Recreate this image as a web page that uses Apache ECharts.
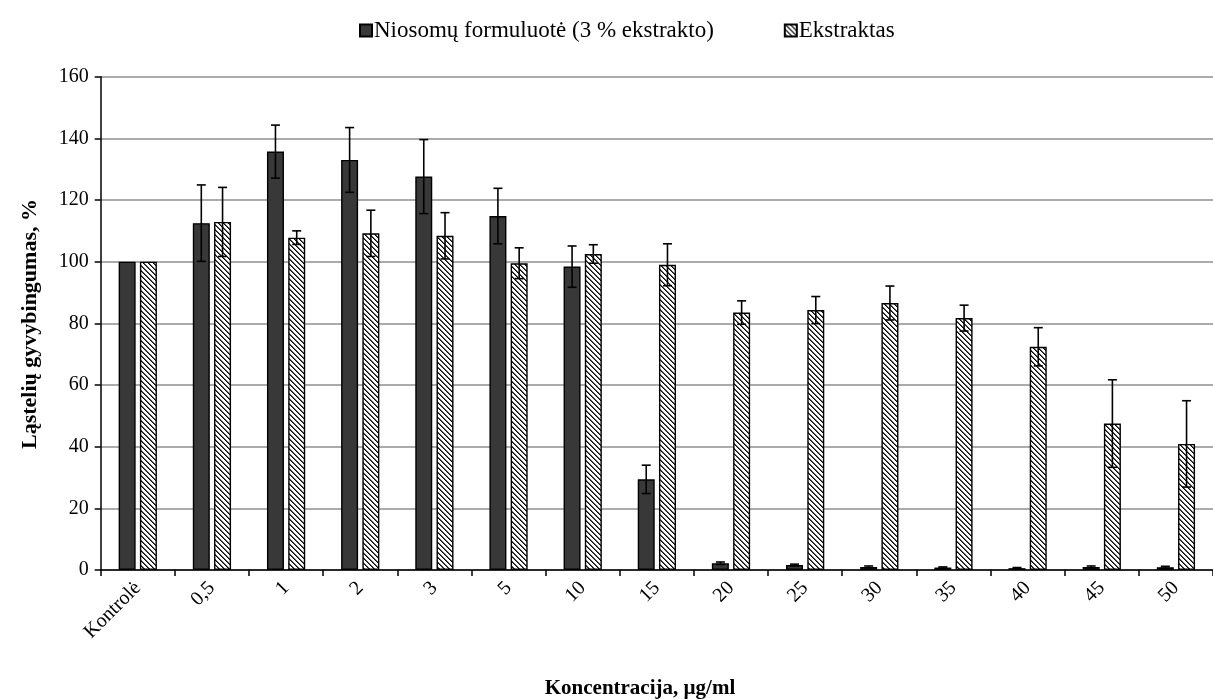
<!DOCTYPE html>
<html>
<head>
<meta charset="utf-8">
<script src="https://cdn.jsdelivr.net/npm/echarts@6/dist/echarts.min.js"></script>
<style>
  html, body { margin: 0; padding: 0; background: #fff; }
  #chart { width: 1213px; height: 700px; }
</style>
</head>
<body>
<div id="chart"></div>
<script>
// Concentrations (µg/ml) along the category axis
const categories = ['Kontrolė', '0,5', '1', '2', '3', '5', '10', '15', '20', '25', '30', '35', '40', '45', '50'];

// Cell viability, % – niosome formulation (3 % extract)
const niosomeMean = [100, 112.5, 135.7, 133.0, 127.6, 114.8, 98.4, 29.4, 2.2, 1.6, 1.0, 0.8, 0.6, 1.0, 0.9];
const niosomeErr  = [0, 12.4, 8.6, 10.5, 12.0, 9.0, 6.7, 4.6, 0.4, 0.3, 0.3, 0.2, 0.2, 0.3, 0.3];

// Cell viability, % – plain extract
const extractMean = [100, 112.9, 107.8, 109.2, 108.4, 99.5, 102.5, 99.0, 83.5, 84.3, 86.6, 81.7, 72.4, 47.5, 40.9];
const extractErr  = [0, 11.2, 2.2, 7.5, 7.5, 5.0, 3.0, 6.8, 3.8, 4.4, 5.5, 4.2, 6.2, 14.2, 14.0];

const yTicks = { min: 0, max: 160, step: 20 };

const seriesNames = ['Niosomų formuluotė (3 % ekstrakto)', 'Ekstraktas'];

const FONT = 'Liberation Serif';
const BAR_W = 17;
const BAR_GAP = 0.25;
const BAR_OFFSET = (BAR_W + BAR_W * BAR_GAP) / 2;

// Downward diagonal hatch tile used to fill the extract bars
function makeHatch() {
  const n = 5;
  const c = document.createElement('canvas');
  c.width = n; c.height = n;
  const ctx = c.getContext('2d');
  const img = ctx.createImageData(n, n);
  for (let y = 0; y < n; y++) {
    for (let x = 0; x < n; x++) {
      const d = (x - y + n) % n;
      const v = d === 0 ? 10 : (d === 1 ? 90 : 255);
      const i = (y * n + x) * 4;
      img.data[i] = v; img.data[i + 1] = v; img.data[i + 2] = v; img.data[i + 3] = 255;
    }
  }
  ctx.putImageData(img, 0, 0);
  return c;
}
const hatchFill = { image: makeHatch(), repeat: 'repeat' };

function errorBars(means, errs, offset) {
  const data = means.map((m, i) => [i, m, errs[i]]);
  return {
    type: 'custom',
    silent: true,
    z: 10,
    data: data,
    encode: { x: 0, y: 1 },
    renderItem: function (params, api) {
      const i = api.value(0), m = api.value(1), e = api.value(2);
      if (!e) return null;
      const hi = api.coord([i, m + e]);
      const lo = api.coord([i, m - e]);
      const x = hi[0] + offset;
      const cap = 4.5;
      const style = { stroke: '#000', lineWidth: 1.6 };
      return {
        type: 'group',
        children: [
          { type: 'line', shape: { x1: x, y1: hi[1], x2: x, y2: lo[1] }, style: style },
          { type: 'line', shape: { x1: x - cap, y1: hi[1], x2: x + cap, y2: hi[1] }, style: style },
          { type: 'line', shape: { x1: x - cap, y1: lo[1], x2: x + cap, y2: lo[1] }, style: style }
        ]
      };
    }
  };
}

const chart = echarts.init(document.getElementById('chart'), null, { renderer: 'canvas' });

chart.setOption({
  animation: false,
  backgroundColor: '#fff',
  textStyle: { fontFamily: FONT, color: '#000' },
  legend: {
    data: seriesNames,
    top: 14,
    left: 354,
    itemWidth: 12,
    itemHeight: 12,
    itemGap: 70,
    icon: 'rect',
    textStyle: { fontFamily: FONT, fontSize: 23, color: '#000', padding: [0, 0, 0, -3] }
  },
  grid: { left: 100.7, right: -7.7, top: 76.7, bottom: 130, containLabel: false },
  xAxis: {
    type: 'category',
    data: categories,
    axisLine: { lineStyle: { color: '#000', width: 1.5 } },
    axisTick: { show: true, length: 6, lineStyle: { color: '#000', width: 1.5 } },
    axisLabel: { rotate: 45, margin: 15, fontFamily: FONT, fontSize: 20, color: '#000', interval: 0 },
    splitLine: { show: false }
  },
  yAxis: {
    type: 'value',
    min: yTicks.min,
    max: yTicks.max,
    interval: yTicks.step,
    axisLine: { show: true, lineStyle: { color: '#000', width: 1.5 } },
    axisTick: { show: true, length: 6, lineStyle: { color: '#000', width: 1.5 } },
    axisLabel: { margin: 12, fontFamily: FONT, fontSize: 20, color: '#000' },
    splitLine: { lineStyle: { color: '#8f8f8f', width: 1.6 } }
  },
  graphic: [
    {
      type: 'text',
      x: 30, y: 324,
      rotation: Math.PI / 2,
      style: {
        text: 'Ląstelių gyvybingumas, %',
        font: 'bold 22px "' + FONT + '"',
        fill: '#000',
        textAlign: 'center',
        textVerticalAlign: 'middle'
      }
    },
    {
      type: 'text',
      x: 640, y: 689,
      style: {
        text: 'Koncentracija, µg/ml',
        font: 'bold 21px "' + FONT + '"',
        fill: '#000',
        textAlign: 'center',
        textVerticalAlign: 'middle'
      }
    }
  ],
  series: [
    {
      name: seriesNames[0],
      type: 'bar',
      data: niosomeMean,
      barWidth: BAR_W,
      barGap: (BAR_GAP * 100) + '%',
      itemStyle: { color: '#383838', borderColor: '#000', borderWidth: 1.4 }
    },
    {
      name: seriesNames[1],
      type: 'bar',
      data: extractMean,
      barWidth: BAR_W,
      barGap: (BAR_GAP * 100) + '%',
      itemStyle: { color: hatchFill, borderColor: '#000', borderWidth: 1.4 }
    },
    errorBars(niosomeMean, niosomeErr, -BAR_OFFSET),
    errorBars(extractMean, extractErr, BAR_OFFSET)
  ]
});
</script>
</body>
</html>
